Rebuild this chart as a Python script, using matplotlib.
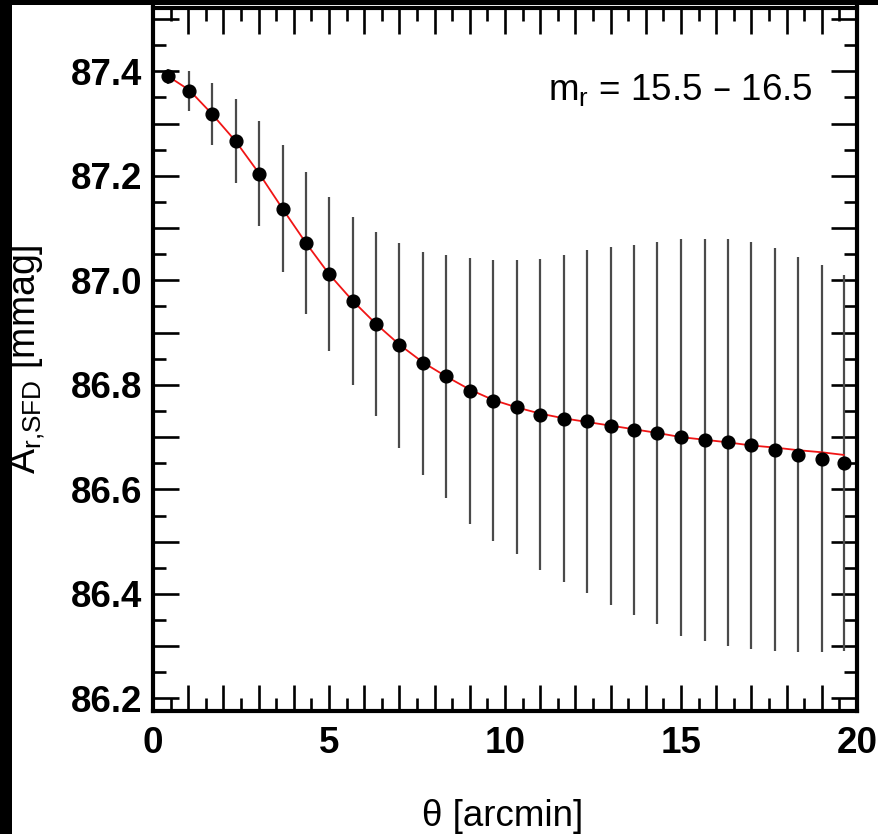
import matplotlib
matplotlib.use("Agg")
import matplotlib.pyplot as plt
from matplotlib.ticker import MultipleLocator, FuncFormatter
from matplotlib.patches import Rectangle

plt.rcParams['font.family'] = ['Liberation Sans', 'DejaVu Sans']
plt.rcParams['mathtext.default'] = 'regular'

# data (theta in arcmin, A_r,SFD in mmag)
theta = [0.44, 1.03, 1.68, 2.35, 3.02, 3.68, 4.34, 5.0, 5.67, 6.33,
         7.0, 7.67, 8.33, 9.0, 9.67, 10.33, 11.0, 11.67, 12.33, 13.0,
         13.67, 14.33, 15.0, 15.67, 16.33, 17.0, 17.67, 18.33, 19.0, 19.62]
a_sfd = [87.390, 87.362, 87.318, 87.267, 87.204, 87.137, 87.072, 87.012, 86.961, 86.917,
         86.876, 86.841, 86.816, 86.788, 86.770, 86.757, 86.743, 86.735, 86.730, 86.721,
         86.714, 86.708, 86.700, 86.695, 86.690, 86.684, 86.676, 86.666, 86.659, 86.650]
a_err = [0.014, 0.038, 0.059, 0.080, 0.101, 0.121, 0.136, 0.148, 0.161, 0.176,
         0.196, 0.214, 0.232, 0.255, 0.269, 0.281, 0.297, 0.313, 0.328, 0.343,
         0.354, 0.365, 0.380, 0.385, 0.389, 0.389, 0.385, 0.378, 0.370, 0.360]
fit_vals = [87.390, 87.364, 87.318, 87.266, 87.204, 87.137, 87.072, 87.012, 86.961, 86.917,
            86.877, 86.843, 86.816, 86.791, 86.771, 86.757, 86.745, 86.736, 86.729, 86.722,
            86.715, 86.708, 86.700, 86.695, 86.690, 86.684, 86.680, 86.675, 86.671, 86.666]

xlim = (0, 20)
ylim = (86.176, 87.522)
label_text = "m$_{r}$ = 15.5 – 16.5"

W, H = 879, 834
fig = plt.figure(figsize=(W / 100, H / 100), dpi=100, facecolor='black')
fig.patches.append(Rectangle((12 / W, 0), 1 - 12 / W, 1 - 5 / H, transform=fig.transFigure,
                             facecolor='white', edgecolor='none', zorder=-10))
ax = fig.add_axes([153 / W, (H - 711) / H, (857 - 153) / W, (711 - 7.5) / H])
ax.set_facecolor('white')

ax.errorbar(theta, a_sfd, yerr=a_err, fmt='none', ecolor='#4a4a4a', elinewidth=1.6,
            capsize=0, zorder=2)
ax.plot(theta, fit_vals, color='#f01515', lw=1.3, zorder=3)
ax.plot(theta, a_sfd, 'o', color='black', markersize=9.2, zorder=4)

ax.set_xlim(*xlim)
ax.set_ylim(*ylim)

for s in ax.spines.values():
    s.set_linewidth(3)

ax.xaxis.set_major_locator(MultipleLocator(1))
ax.xaxis.set_minor_locator(MultipleLocator(0.5))
ax.yaxis.set_major_locator(MultipleLocator(0.1))
ax.yaxis.set_minor_locator(MultipleLocator(0.05))

def xfmt(v, pos):
    return f"{v:.0f}" if abs(v / 5 - round(v / 5)) < 1e-6 else ""

def yfmt(v, pos):
    return f"{v:.1f}" if abs(v / 0.2 - round(v / 0.2)) < 1e-6 else ""

ax.xaxis.set_major_formatter(FuncFormatter(xfmt))
ax.yaxis.set_major_formatter(FuncFormatter(yfmt))

ax.tick_params(which='major', direction='in', length=19, width=1.9,
               top=True, right=True, labelsize=26.5, pad=8)
ax.tick_params(which='minor', direction='in', length=9.5, width=1.9,
               top=True, right=True)
ax.tick_params(axis='x', which='major', pad=11)
for lab in ax.get_xticklabels() + ax.get_yticklabels():
    lab.set_fontweight('bold')

ax.set_xlabel("θ [arcmin]", fontsize=26.5)
ax.xaxis.set_label_coords(0.497, -0.125)
ax.xaxis.label.set_va('top')
ax.set_ylabel("A$_{r{,}SFD}$ [mmag]", fontsize=27)
ax.yaxis.set_label_coords(-0.150, 0.5)

ax.text(0.937, 0.8685, label_text, transform=ax.transAxes, ha='right', va='baseline',
        fontsize=26.5)

fig.savefig("out.png", dpi=100, facecolor=fig.get_facecolor())
